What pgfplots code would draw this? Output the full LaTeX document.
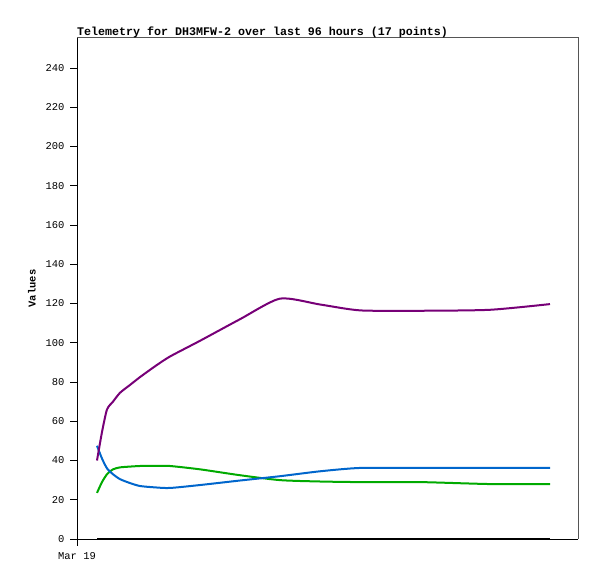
\documentclass[border=0pt]{standalone}
\usepackage{fontspec}
\setmainfont{Liberation Mono}
\setmonofont{Liberation Mono}
\usepackage{pgfplots}
\pgfplotsset{compat=1.18}
\definecolor{cpurple}{HTML}{770077}
\definecolor{cblue}{HTML}{0066CC}
\definecolor{cgreen}{HTML}{00AA00}
\definecolor{cframe}{HTML}{555555}
\begin{document}
\begin{tikzpicture}
\useasboundingbox (-77bp,-40bp) rectangle (520bp,539bp);
\begin{axis}[
  at={(0,0)}, anchor=south west,
  scale only axis, width=501bp, height=501bp,
  xmin=77, xmax=578, ymin=0, ymax=255.3,
  axis x line*=bottom, axis y line*=left,
  axis line style={black, line width=1bp},
  ytick={0,20,...,240},
  xtick={77}, xticklabels={Mar 19},
  tick align=outside,
  major tick length=7pt,
  tick style={black, line width=1pt},
  /pgf/number format/assume math mode=true,
  yticklabel style={font=\fontsize{10.5}{11}\selectfont, xshift=-2bp},
  xticklabel style={font=\fontsize{10.5}{11}\selectfont, yshift=-3bp},
  ylabel={\bfseries Values},
  ylabel style={at={(axis description cs:-0.0898,0.5)}, anchor=center, rotate=0, font=\fontsize{10.5}{11}\selectfont},
  title={\bfseries Telemetry for DH3MFW-2 over last 96 hours (17 points)},
  title style={at={(rel axis cs:0,1)}, anchor=base west, inner sep=0pt, yshift=-3pt, font=\fontsize{11.7}{12}\selectfont},
  clip=false,
]
\draw[cframe, line width=1bp] (rel axis cs:0,1) -- (rel axis cs:1,1) -- (rel axis cs:1,0);
\pgfplotsinvokeforeach{0,20,...,240}{\draw[black, line width=1bp] (axis cs:77,#1) -- (axis cs:70,#1);}
\draw[black, line width=1bp] (axis cs:77,0) -- (axis cs:77,-3.6);
\addplot[black, line width=2bp] coordinates {
(97,0) (102,0) (107,0) (113,0) (120,0) (130,0) (140,0) (155,0) (170,0)
(200,0) (240,0) (280,0) (320,0) (360,0) (420,0) (490,0) (550,0)};
\addplot[cgreen, line width=2bp, smooth, tension=0.4] coordinates {
(97,23.5) (102,29) (107,33) (113,35.5) (120,36.5) (130,36.9) (140,37.2) (155,37.3) (170,37.2)
(200,35.5) (240,32.5) (280,30) (320,29.3) (360,29) (420,29) (490,28) (550,28)};
\addplot[cblue, line width=2bp, smooth, tension=0.4] coordinates {
(97,47.5) (102,41) (107,36) (113,33) (120,30.5) (130,28.5) (140,27) (155,26.3) (170,26)
(200,27.5) (240,29.8) (280,32) (320,34.5) (360,36.2) (420,36.2) (490,36.2) (550,36.2)};
\addplot[cpurple, line width=2bp, smooth, tension=0.4] coordinates {
(97,40) (102,54.5) (107,66) (113,70) (120,74.5) (130,78.5) (140,82.5) (155,88) (170,93)
(200,101) (240,112) (280,122.5) (320,119.5) (360,116.5) (420,116.3) (490,116.8) (550,119.7)};
\end{axis}
\end{tikzpicture}
\end{document}
